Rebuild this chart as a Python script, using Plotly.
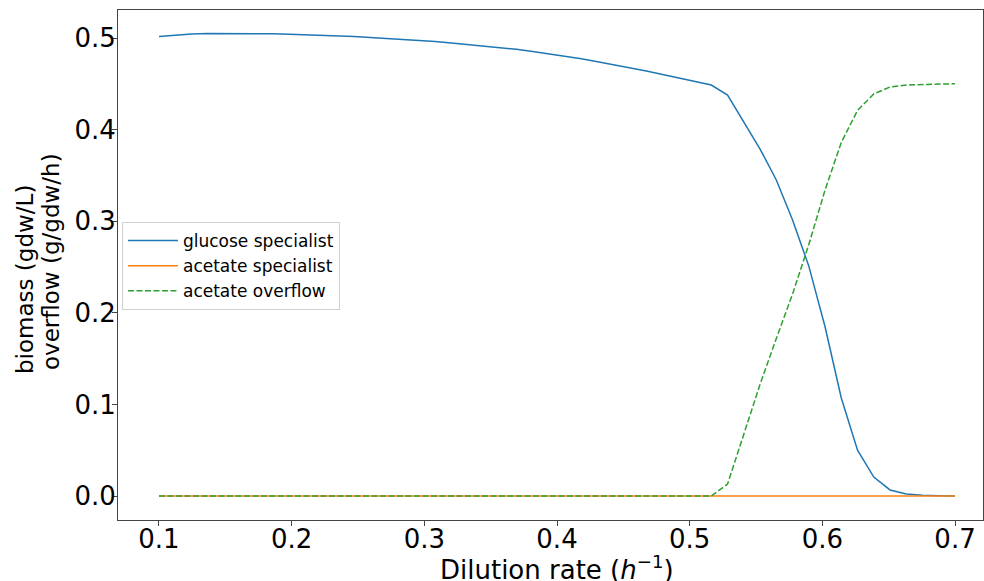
import numpy as np
import plotly.graph_objects as go

# dilution rates (h^-1), 50 steps from 0.1 to 0.7
dilution = np.linspace(0.1, 0.7, 50)

glucose_specialist = [
    0.5018, 0.5035, 0.5045, 0.5050, 0.5051, 0.5051, 0.5049, 0.5046, 0.5042, 0.5037,
    0.5031, 0.5024, 0.5016, 0.5007, 0.4997, 0.4986, 0.4974, 0.4961, 0.4947, 0.4931,
    0.4914, 0.4896, 0.4877, 0.4854, 0.4830, 0.4804, 0.4775, 0.4742, 0.4710, 0.4676,
    0.4640, 0.4602, 0.4563, 0.4525, 0.4487, 0.4378, 0.4090, 0.3788, 0.3450, 0.3013,
    0.2510, 0.1848, 0.1070, 0.0500, 0.0207, 0.0066, 0.0022, 0.0008, 0.0003, 0.0001,
]

acetate_specialist = [0.0] * 50

acetate_overflow = [0.0] * 35 + [
    0.0131, 0.0688, 0.1220, 0.1720, 0.2205, 0.2745, 0.3340, 0.3860, 0.4210, 0.4390,
    0.4465, 0.4487, 0.4495, 0.4498, 0.4500,
]

series = [
    ("glucose specialist", glucose_specialist, "#1f77b4", "solid"),
    ("acetate specialist", acetate_specialist, "#ff7f0e", "solid"),
    ("acetate overflow", acetate_overflow, "#2ca02c", "6px,2.5px"),
]

fig = go.Figure()
for name, vals, col, dash in series:
    fig.add_trace(go.Scatter(x=dilution, y=vals, mode="lines", name=name,
                             line=dict(color=col, width=1.5, dash=dash)))

font = "DejaVu Sans, sans-serif"
fig.update_layout(
    width=984, height=581,
    margin=dict(l=118, r=1, t=10, b=61, autoexpand=False),
    paper_bgcolor="white", plot_bgcolor="white",
    font=dict(family=font, color="black"),
    legend=dict(x=0.0046, y=0.5843, xanchor="left", yanchor="top",
                bgcolor="white", bordercolor="#d0d0d0", borderwidth=1,
                font=dict(size=17, family=font), itemwidth=50, tracegroupgap=0),
)
fig.update_xaxes(
    range=[0.0691, 0.7211], tickvals=[0.1, 0.2, 0.3, 0.4, 0.5, 0.6, 0.7],
    ticktext=["0.1", "0.2", "0.3", "0.4", "0.5", "0.6", "0.7"],
    showgrid=False, zeroline=False, showline=True, linecolor="#444", linewidth=1,
    mirror=True, ticks="outside", ticklen=5, tickcolor="#444", automargin=False,
    tickfont=dict(size=26), ticklabelstandoff=-9,
)
fig.update_yaxes(
    range=[-0.0262, 0.5306], tickvals=[0.0, 0.1, 0.2, 0.3, 0.4, 0.5],
    ticktext=["0.0", "0.1", "0.2", "0.3", "0.4", "0.5"],
    showgrid=False, zeroline=False, showline=True, linecolor="#444", linewidth=1,
    mirror=True, ticks="outside", ticklen=5, tickcolor="#444", automargin=False,
    tickfont=dict(size=26), ticklabelstandoff=-9,
)

# axis titles
fig.add_annotation(text="Dilution rate (<i>h</i><sup>−1</sup>)", xref="paper", yref="paper",
                   x=0.5075, y=-0.094, xanchor="center", yanchor="middle",
                   showarrow=False, font=dict(size=26))
fig.add_annotation(text="biomass (gdw/L)", xref="paper", yref="paper",
                   x=-0.1075, y=0.4706, xanchor="center", yanchor="middle",
                   textangle=-90, showarrow=False, font=dict(size=23))
fig.add_annotation(text="overflow (g/gdw/h)", xref="paper", yref="paper",
                   x=-0.0775, y=0.5078, xanchor="center", yanchor="middle",
                   textangle=-90, showarrow=False, font=dict(size=23))

# drop the default body margin so the figure fills the window
fig.write_html("out.html", config={"displayModeBar": False},
               post_script="document.body.style.margin='0';document.body.style.overflow='hidden';")
